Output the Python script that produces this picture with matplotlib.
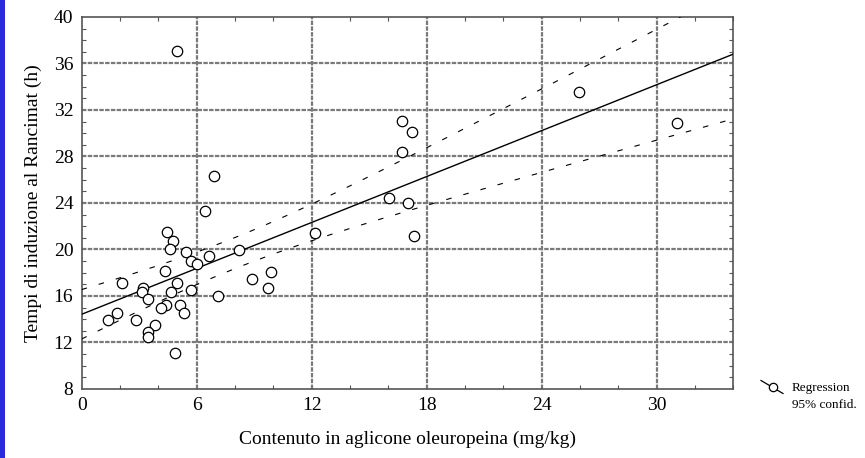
import matplotlib
matplotlib.use("Agg")
import matplotlib.pyplot as plt
import numpy as np
from matplotlib.lines import Line2D
from matplotlib.patches import Rectangle
from matplotlib.ticker import MultipleLocator

# Contenuto in aglicone oleuropeina (mg/kg)
aglicone = [5.00, 25.97, 31.09, 16.69, 17.26, 16.74, 16.06, 17.02, 17.32, 12.15,
            6.44, 6.91, 4.44, 4.75, 4.61, 5.43, 6.66, 8.23, 5.71, 6.00,
            4.35, 2.12, 4.96, 3.19, 3.16, 4.68, 5.71, 7.10, 3.48, 4.40,
            4.14, 5.13, 5.34, 1.84, 1.39, 2.82, 3.83, 3.48, 3.48, 4.89,
            8.88, 9.90, 9.71]
# Tempi di induzione al Rancimat (h)
rancimat = [37.10, 33.55, 30.90, 31.08, 30.13, 28.39, 24.45, 23.97, 21.16, 21.45,
            23.34, 26.35, 21.53, 20.76, 20.02, 19.76, 19.47, 19.96, 19.04, 18.75,
            18.15, 17.14, 17.14, 16.71, 16.32, 16.34, 16.52, 16.03, 15.72, 15.23,
            14.94, 15.20, 14.51, 14.51, 13.94, 13.94, 13.50, 12.93, 12.45, 11.12,
            17.44, 18.06, 16.72]

x_ticks = [0, 6, 12, 18, 24, 30]
y_ticks = [8, 12, 16, 20, 24, 28, 32, 36, 40]

plt.rcParams["font.family"] = ["Liberation Serif", "DejaVu Serif"]

x = np.array(aglicone)
y = np.array(rancimat)

# regressione lineare e banda di confidenza al 95%
n = len(x)
slope, intercept = np.polyfit(x, y, 1)
res = y - (intercept + slope * x)
s = np.sqrt(np.sum(res**2) / (n - 2))
t_val = 2.02
xx = np.linspace(0, 34, 200)
yy = intercept + slope * xx
half = t_val * s * np.sqrt(1 / n + (xx - x.mean())**2 / np.sum((x - x.mean())**2))

fig = plt.figure(figsize=(8.65, 4.58), dpi=100)
ax = fig.add_axes([0.0944, 0.1507, 0.7533, 0.8122])

ax.set_xlim(0, 34)
ax.set_ylim(8, 40)
ax.set_xticks(x_ticks)
ax.set_yticks(y_ticks)
ax.xaxis.set_minor_locator(MultipleLocator(2))
ax.yaxis.set_minor_locator(MultipleLocator(1))
ax.tick_params(which="both", direction="in", top=True, right=True,
               labelsize=14, color="#555555")
ax.tick_params(which="major", length=0, pad=6)
ax.tick_params(which="minor", length=3, width=0.8)

for gx in x_ticks[1:]:
    ax.axvline(gx, color="#7a7a7a", lw=1.6, ls=(0, (2, 0.6)), zorder=1)
for gy in y_ticks[1:-1]:
    ax.axhline(gy, color="#7a7a7a", lw=1.6, ls=(0, (2, 0.6)), zorder=1)

ax.plot(xx, yy, color="black", lw=1.0, zorder=3)
ax.plot(xx, yy + half, color="black", lw=0.8, ls=(0, (5, 11)), zorder=3)
ax.plot(xx, yy - half, color="black", lw=0.8, ls=(0, (5, 11)), zorder=3)
ax.plot(x, y, "o", ms=7.5, mfc="white", mec="black", mew=0.9, zorder=4)

for sp in ax.spines.values():
    sp.set_color("#555555")
    sp.set_linewidth(1.2)

ax.set_xlabel("Contenuto in aglicone oleuropeina (mg/kg)", fontsize=14, labelpad=12)
ax.set_ylabel("Tempi di induzione al Rancimat (h)", fontsize=14, labelpad=8)

# barra blu a sinistra
fig.add_artist(Rectangle((0, 0), 5 / 865, 1, transform=fig.transFigure,
                         color="#2a2adb", lw=0))

# legenda
def fx(px):
    return px / 865

def fy(py):
    return 1 - py / 458

fig.add_artist(Line2D([fx(761), fx(783)], [fy(380.5), fy(393.5)],
                      color="black", lw=0.9, transform=fig.transFigure))
fig.add_artist(Line2D([fx(773)], [fy(387)], marker="o", ms=6, mfc="white",
                      mec="black", mew=0.9, transform=fig.transFigure))
fig.text(fx(792), fy(388), "Regression", fontsize=9.5, va="center")
fig.text(fx(792), fy(405), "95% confid.", fontsize=9.5, va="center")

fig.savefig("out.png", dpi=100)
